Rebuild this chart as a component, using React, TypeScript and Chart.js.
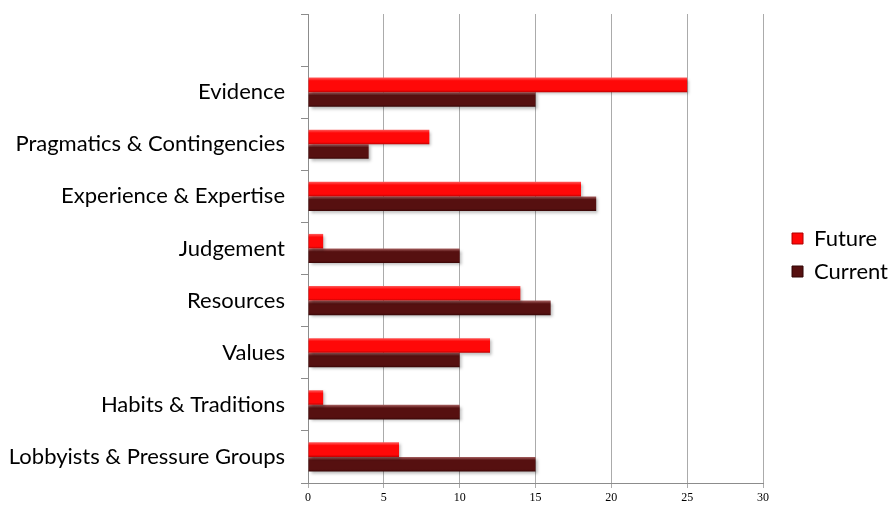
import React, { useEffect, useRef } from "react";
import { Chart, registerables } from "chart.js";

Chart.register(...registerables);

const categories = [
  "",
  "Evidence",
  "Pragmatics & Contingencies",
  "Experience & Expertise",
  "Judgement",
  "Resources",
  "Values",
  "Habits & Traditions",
  "Lobbyists & Pressure Groups",
];
const futureValues = [null, 25, 8, 18, 1, 14, 12, 1, 6];
const currentValues = [null, 15, 4, 19, 10, 16, 10, 10, 15];
const xTicks = [0, 5, 10, 15, 20, 25, 30];

const CAT_PCT = 0.56;

function barGradient(ctx: any, top: string, mid: string, bottom: string) {
  const chart = ctx.chart;
  const ys = chart.scales && chart.scales.y;
  if (!ys || ctx.dataIndex === undefined) return mid;
  const n = chart.data.labels.length;
  const band = (ys.bottom - ys.top) / n;
  const t = (band * CAT_PCT) / 2;
  const c = ys.getPixelForValue(ctx.dataIndex);
  if (!isFinite(c) || !isFinite(t) || t <= 0) return mid;
  const y0 = ctx.datasetIndex === 0 ? c - t : c;
  const y1 = y0 + t;
  const g = chart.ctx.createLinearGradient(0, y0, 0, y1);
  g.addColorStop(0, top);
  g.addColorStop(0.22, mid);
  g.addColorStop(0.85, mid);
  g.addColorStop(1, bottom);
  return g;
}

const shadowPlugin = {
  id: "barShadow",
  beforeDatasetsDraw(chart: any) {
    const c = chart.ctx;
    c.save();
    c.shadowColor = "rgba(0,0,0,0.28)";
    c.shadowBlur = 3;
    c.shadowOffsetX = 2;
    c.shadowOffsetY = 2;
  },
  afterDatasetsDraw(chart: any) {
    chart.ctx.restore();
  },
};

const legendShift = {
  id: "legendShift",
  afterLayout(chart: any) {
    if (chart.legend) {
      chart.legend.left += 18;
      chart.legend.right += 18;
      chart.legend.top -= 5;
      chart.legend.bottom -= 5;
    }
  },
};

export default function App() {
  const ref = useRef<HTMLCanvasElement | null>(null);
  useEffect(() => {
    if (!ref.current) return;
    const chart = new Chart(ref.current, {
      type: "bar",
      plugins: [shadowPlugin, legendShift],
      data: {
        labels: categories,
        datasets: [
          {
            label: "Future",
            data: futureValues,
            backgroundColor: (c: any) => barGradient(c, "#ff5a5a", "#ff0808", "#c00000"),
            borderWidth: 0,
            barPercentage: 1,
            categoryPercentage: CAT_PCT,
          },
          {
            label: "Current",
            data: currentValues,
            backgroundColor: (c: any) => barGradient(c, "#a86262", "#561010", "#380606"),
            borderWidth: 0,
            barPercentage: 1,
            categoryPercentage: CAT_PCT,
          },
        ],
      },
      options: {
        indexAxis: "y",
        animation: false,
        responsive: false,
        maintainAspectRatio: false,
        layout: { padding: { top: 14, right: 8, left: 0, bottom: 0 } },
        scales: {
          x: {
            min: 0,
            max: 30,
            afterBuildTicks: (s: any) => {
              s.ticks = xTicks.map((v) => ({ value: v }));
            },
            afterFit: (s: any) => {
              s.height = 23;
              s.paddingTop = 0;
              s.paddingBottom = 0;
            },
            grid: {
              color: "#ababab",
              tickLength: 5,
              drawTicks: true,
            },
            border: { color: "#8c8c8c" },
            ticks: {
              color: "#000",
              padding: 3,
              maxRotation: 0,
              font: { family: "'Liberation Serif', serif", size: 12 },
            },
          },
          y: {
            afterFit: (s: any) => {
              s.width = 308;
              s.paddingTop = 0;
              s.paddingBottom = 0;
            },
            grid: {
              drawOnChartArea: false,
              drawTicks: true,
              tickLength: 7,
              color: "#8c8c8c",
              offset: true,
            },
            border: { color: "#8c8c8c" },
            ticks: {
              color: "#000",
              padding: 16,
              font: { family: "Lato, 'Open Sans', sans-serif", size: 22 },
            },
          },
        },
        plugins: {
          legend: {
            position: "right",
            labels: {
              boxWidth: 11,
              boxHeight: 11,
              padding: 11,
              color: "#000",
              font: { family: "Lato, 'Open Sans', sans-serif", size: 22 },
              generateLabels: (ch: any) =>
                ch.data.datasets.map((d: any, i: number) => ({
                  text: d.label,
                  fillStyle: i === 0 ? "#ff0808" : "#561010",
                  strokeStyle: i === 0 ? "#b00000" : "#300505",
                  lineWidth: 1,
                  hidden: false,
                  datasetIndex: i,
                  fontColor: "#000",
                })),
            },
          },
          tooltip: { enabled: false },
        },
      },
    });
    return () => chart.destroy();
  }, []);
  return (
    <div style={{ position: "absolute", left: 0, top: 0, width: 888, height: 506, background: "#fff" }}>
      <canvas ref={ref} width={888} height={506} style={{ display: "block" }} />
    </div>
  );
}
